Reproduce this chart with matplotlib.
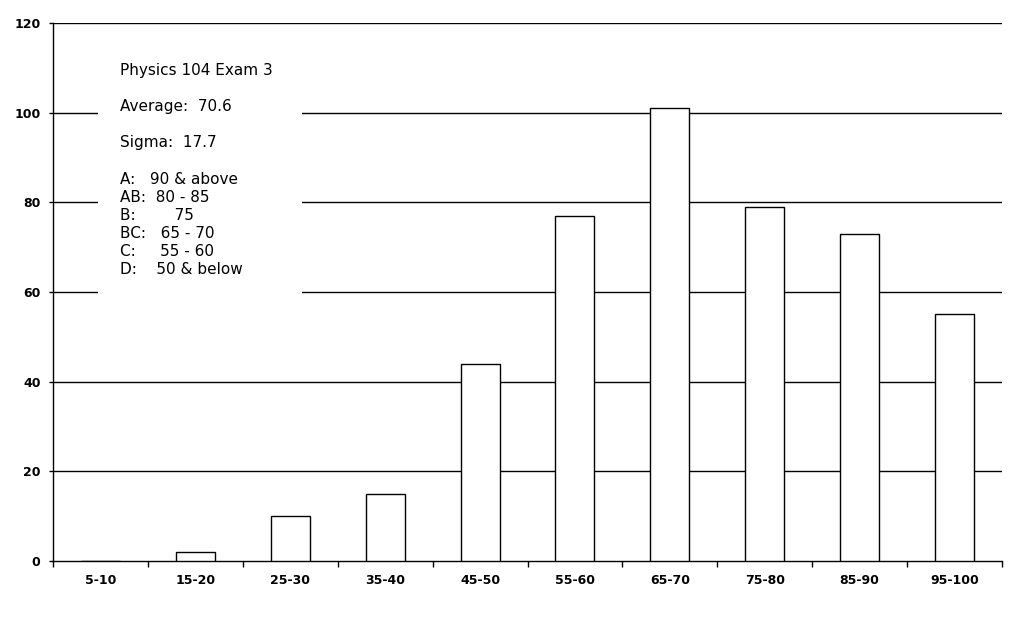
import matplotlib.pyplot as plt
from matplotlib.patches import Rectangle

# score ranges and number of students
ranges = ['5-10', '15-20', '25-30', '35-40', '45-50',
          '55-60', '65-70', '75-80', '85-90', '95-100']
counts = [0, 2, 10, 15, 44, 77, 101, 79, 73, 55]

y_ticks = [0, 20, 40, 60, 80, 100, 120]

info_lines = ['Physics 104 Exam 3', 'Average:  70.6', 'Sigma:  17.7']
grade_lines = ['A:   90 & above', 'AB:  80 - 85', 'B:        75',
               'BC:   65 - 70', 'C:     55 - 60', 'D:    50 & below']

plt.rcParams['font.family'] = 'DejaVu Sans'

fig = plt.figure(figsize=(10.14, 6.19), dpi=100)
ax = fig.add_axes([53 / 1014, 58 / 619, 949 / 1014, 538 / 619])

lw = 1.0
pos = list(range(len(ranges)))
ax.bar(pos, counts, width=0.41, color='white', edgecolor='black',
       linewidth=lw, zorder=3)

ax.set_xlim(-0.5, len(ranges) - 0.5)
ax.set_ylim(0, 120)
ax.set_yticks(y_ticks)
ax.set_yticklabels([str(v) for v in y_ticks], fontsize=9, fontweight='bold')
ax.set_xticks(pos)
ax.set_xticklabels(ranges, fontsize=9, fontweight='bold')
ax.tick_params(axis='x', length=0, pad=9)
ax.tick_params(axis='y', length=3, width=lw, pad=6)

# boundary ticks between categories
ax.set_xticks([p - 0.5 for p in pos] + [len(ranges) - 0.5], minor=True)
ax.tick_params(axis='x', which='minor', length=4, width=lw)

for v in y_ticks[1:]:
    ax.axhline(v, color='black', linewidth=lw, zorder=1)

ax.spines['right'].set_visible(False)
ax.spines['top'].set_visible(False)
ax.spines['left'].set_linewidth(lw)
ax.spines['bottom'].set_linewidth(lw)

# white box behind the summary text
ax.add_patch(Rectangle((0.047, 0.48), 0.215, 0.49, transform=ax.transAxes,
                       facecolor='white', edgecolor='none', zorder=2))

tx = (120 - 53) / 949
for line, y in zip(info_lines, [71, 106, 143]):
    ax.text(tx, (561 - y) / 538, line, transform=ax.transAxes,
            fontsize=11, va='center', ha='left', zorder=4)
for i, line in enumerate(grade_lines):
    y = 179 + 18 * i
    ax.text(tx, (561 - y) / 538, line, transform=ax.transAxes,
            fontsize=11, va='center', ha='left', zorder=4)

fig.savefig('out.png', dpi=100)
